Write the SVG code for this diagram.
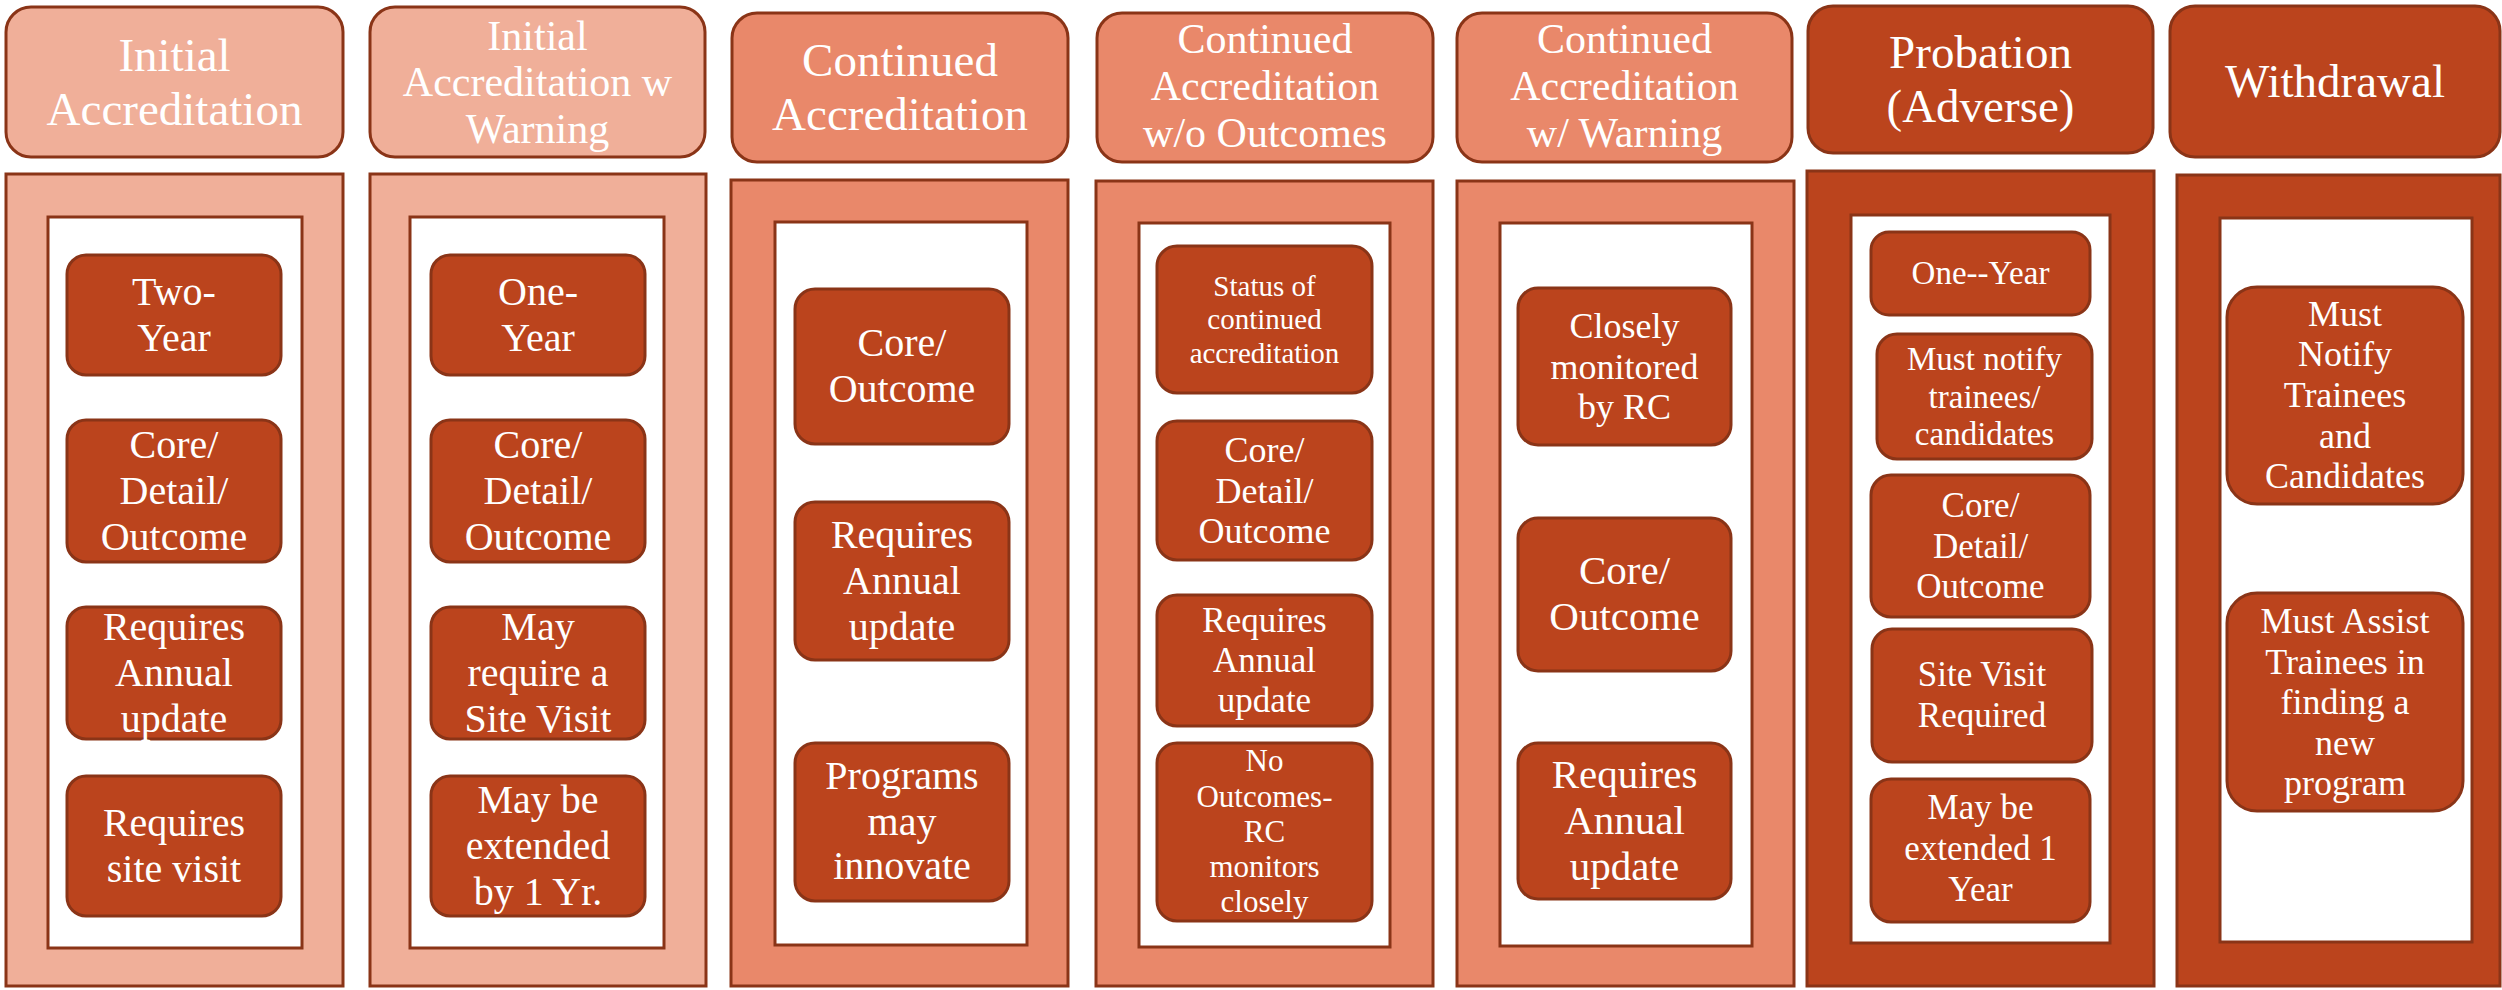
<svg xmlns="http://www.w3.org/2000/svg" width="2502" height="990" viewBox="0 0 2502 990">
<style>
  .hl{fill:#F0AF99;stroke:#8A3417;stroke-width:3}
  .hm{fill:#E9886A;stroke:#8A3417;stroke-width:3}
  .hd{fill:#BB441D;stroke:#8A3417;stroke-width:3}
  .in{fill:#FFFFFF;stroke:#8A3417;stroke-width:3}
  .bx{fill:#BB441D;stroke:#8A3417;stroke-width:3}
  text{fill:#FFFFFF;text-anchor:middle}
  .t47{font-size:47px}
  .t42{font-size:42px}
  .t41{font-size:41px}
  .t40{font-size:40px}
  .t36{font-size:36px}
  .t35{font-size:35px}
  .t33{font-size:33px}
  .t31{font-size:31px}
  .t29{font-size:29px}
</style>
<rect width="2502" height="990" fill="#FFFFFF"/>
<g font-family="Liberation Serif, Tinos, Times New Roman, DejaVu Serif, serif">

<g id="col1">
  <rect class="hl" x="6" y="7" width="337" height="150" rx="25"/>
  <text class="t47" x="174.5" y="70.5">Initial</text>
  <text class="t47" x="174.5" y="124.5">Accreditation</text>
  <rect class="hl" x="6" y="174" width="337" height="812"/>
  <rect class="in" x="48" y="217" width="254" height="731"/>
  <g id="c1b1"><rect class="bx" x="67" y="255" width="214" height="120" rx="19"/>
    <text class="t40" x="174" y="305">Two-</text><text class="t40" x="174" y="351">Year</text></g>
  <g id="c1b2"><rect class="bx" x="67" y="420" width="214" height="142" rx="19"/>
    <text class="t40" x="174" y="458">Core/</text><text class="t40" x="174" y="504">Detail/</text><text class="t40" x="174" y="550">Outcome</text></g>
  <g id="c1b3"><rect class="bx" x="67" y="607" width="214" height="132" rx="19"/>
    <text class="t40" x="174" y="640">Requires</text><text class="t40" x="174" y="686">Annual</text><text class="t40" x="174" y="732">update</text></g>
  <g id="c1b4"><rect class="bx" x="67" y="776" width="214" height="140" rx="19"/>
    <text class="t40" x="174" y="836">Requires</text><text class="t40" x="174" y="882">site visit</text></g>
</g>

<g id="col2">
  <rect class="hl" x="370" y="7" width="335" height="150" rx="25"/>
  <text class="t42" x="537.5" y="49.5">Initial</text>
  <text class="t42" x="537.5" y="96">Accreditation w</text>
  <text class="t42" x="537.5" y="142.5">Warning</text>
  <rect class="hl" x="370" y="174" width="336" height="812"/>
  <rect class="in" x="410" y="217" width="254" height="731"/>
  <g id="c2b1"><rect class="bx" x="431" y="255" width="214" height="120" rx="19"/>
    <text class="t40" x="538" y="305">One-</text><text class="t40" x="538" y="351">Year</text></g>
  <g id="c2b2"><rect class="bx" x="431" y="420" width="214" height="142" rx="19"/>
    <text class="t40" x="538" y="458">Core/</text><text class="t40" x="538" y="504">Detail/</text><text class="t40" x="538" y="550">Outcome</text></g>
  <g id="c2b3"><rect class="bx" x="431" y="607" width="214" height="132" rx="19"/>
    <text class="t40" x="538" y="640">May</text><text class="t40" x="538" y="686">require a</text><text class="t40" x="538" y="732">Site Visit</text></g>
  <g id="c2b4"><rect class="bx" x="431" y="776" width="214" height="140" rx="19"/>
    <text class="t40" x="538" y="813">May be</text><text class="t40" x="538" y="859">extended</text><text class="t40" x="538" y="905">by 1 Yr.</text></g>
</g>

<g id="col3">
  <rect class="hm" x="732" y="13" width="336" height="149" rx="25"/>
  <text class="t47" x="900" y="76">Continued</text>
  <text class="t47" x="900" y="130">Accreditation</text>
  <rect class="hm" x="731" y="180" width="337" height="806"/>
  <rect class="in" x="775" y="222" width="252" height="723"/>
  <g id="c3b1"><rect class="bx" x="795" y="289" width="214" height="155" rx="20"/>
    <text class="t40" x="902" y="356">Core/</text><text class="t40" x="902" y="402">Outcome</text></g>
  <g id="c3b2"><rect class="bx" x="795" y="502" width="214" height="158" rx="20"/>
    <text class="t40" x="902" y="548">Requires</text><text class="t40" x="902" y="594">Annual</text><text class="t40" x="902" y="640">update</text></g>
  <g id="c3b3"><rect class="bx" x="795" y="743" width="214" height="158" rx="20"/>
    <text class="t40" x="902" y="789">Programs</text><text class="t40" x="902" y="835">may</text><text class="t40" x="902" y="879">innovate</text></g>
</g>

<g id="col4">
  <rect class="hm" x="1097" y="13" width="336" height="149" rx="25"/>
  <text class="t42" x="1265" y="53">Continued</text>
  <text class="t42" x="1265" y="100">Accreditation</text>
  <text class="t42" x="1265" y="147">w/o Outcomes</text>
  <rect class="hm" x="1096" y="181" width="337" height="805"/>
  <rect class="in" x="1139" y="223" width="251" height="724"/>
  <g id="c4b1"><rect class="bx" x="1157" y="246" width="215" height="147" rx="20"/>
    <text class="t29" x="1264.5" y="295.5">Status of</text><text class="t29" x="1264.5" y="329">continued</text><text class="t29" x="1264.5" y="362.5">accreditation</text></g>
  <g id="c4b2"><rect class="bx" x="1157" y="421" width="215" height="139" rx="20"/>
    <text class="t36" x="1264.5" y="462">Core/</text><text class="t36" x="1264.5" y="502.5">Detail/</text><text class="t36" x="1264.5" y="543">Outcome</text></g>
  <g id="c4b3"><rect class="bx" x="1157" y="595" width="215" height="131" rx="20"/>
    <text class="t35" x="1264.5" y="632">Requires</text><text class="t35" x="1264.5" y="672">Annual</text><text class="t35" x="1264.5" y="712">update</text></g>
  <g id="c4b4"><rect class="bx" x="1157" y="743" width="215" height="178" rx="20"/>
    <text class="t31" x="1264.5" y="771">No</text><text class="t31" x="1264.5" y="806.5">Outcomes-</text><text class="t31" x="1264.5" y="842">RC</text><text class="t31" x="1264.5" y="877">monitors</text><text class="t31" x="1264.5" y="912">closely</text></g>
</g>

<g id="col5">
  <rect class="hm" x="1457" y="13" width="335" height="149" rx="25"/>
  <text class="t42" x="1624.5" y="53">Continued</text>
  <text class="t42" x="1624.5" y="100">Accreditation</text>
  <text class="t42" x="1624.5" y="147">w/ Warning</text>
  <rect class="hm" x="1457" y="181" width="337" height="805"/>
  <rect class="in" x="1500" y="223" width="252" height="723"/>
  <g id="c5b1"><rect class="bx" x="1518" y="288" width="213" height="157" rx="20"/>
    <text class="t36" x="1624.5" y="338">Closely</text><text class="t36" x="1624.5" y="378.5">monitored</text><text class="t36" x="1624.5" y="419">by RC</text></g>
  <g id="c5b2"><rect class="bx" x="1518" y="518" width="213" height="153" rx="20"/>
    <text class="t41" x="1624.5" y="584">Core/</text><text class="t41" x="1624.5" y="630">Outcome</text></g>
  <g id="c5b3"><rect class="bx" x="1518" y="743" width="213" height="156" rx="20"/>
    <text class="t41" x="1624.5" y="788">Requires</text><text class="t41" x="1624.5" y="834">Annual</text><text class="t41" x="1624.5" y="880">update</text></g>
</g>

<g id="col6">
  <rect class="hd" x="1808" y="6" width="345" height="147" rx="25"/>
  <text class="t47" x="1980.5" y="68">Probation</text>
  <text class="t47" x="1980.5" y="122">(Adverse)</text>
  <rect class="hd" x="1807" y="171" width="347" height="815"/>
  <rect class="in" x="1851" y="215" width="259" height="728"/>
  <g id="c6b1"><rect class="bx" x="1871" y="232" width="219" height="83" rx="18"/>
    <text class="t33" x="1980.5" y="284">One--Year</text></g>
  <g id="c6b2"><rect class="bx" x="1877" y="334" width="215" height="125" rx="20"/>
    <text class="t33" x="1984.5" y="370">Must notify</text><text class="t33" x="1984.5" y="407.5">trainees/</text><text class="t33" x="1984.5" y="445">candidates</text></g>
  <g id="c6b3"><rect class="bx" x="1871" y="475" width="219" height="142" rx="20"/>
    <text class="t35" x="1980.5" y="517">Core/</text><text class="t35" x="1980.5" y="557.5">Detail/</text><text class="t35" x="1980.5" y="598">Outcome</text></g>
  <g id="c6b4"><rect class="bx" x="1872" y="629" width="220" height="133" rx="20"/>
    <text class="t35" x="1982" y="686">Site Visit</text><text class="t35" x="1982" y="727">Required</text></g>
  <g id="c6b5"><rect class="bx" x="1871" y="779" width="219" height="143" rx="20"/>
    <text class="t35" x="1980.5" y="819">May be</text><text class="t35" x="1980.5" y="860">extended 1</text><text class="t35" x="1980.5" y="901">Year</text></g>
</g>

<g id="col7">
  <rect class="hd" x="2170" y="6" width="330" height="151" rx="25"/>
  <text class="t47" x="2335" y="97">Withdrawal</text>
  <rect class="hd" x="2177" y="175" width="323" height="811"/>
  <rect class="in" x="2220" y="218" width="252" height="724"/>
  <g id="c7b1"><rect class="bx" x="2227" y="287" width="236" height="217" rx="30"/>
    <text class="t36" x="2345" y="326">Must</text><text class="t36" x="2345" y="366">Notify</text><text class="t36" x="2345" y="407">Trainees</text><text class="t36" x="2345" y="447.5">and</text><text class="t36" x="2345" y="488">Candidates</text></g>
  <g id="c7b2"><rect class="bx" x="2227" y="593" width="236" height="218" rx="30"/>
    <text class="t36" x="2345" y="633">Must Assist</text><text class="t36" x="2345" y="673.5">Trainees in</text><text class="t36" x="2345" y="714">finding a</text><text class="t36" x="2345" y="754.5">new</text><text class="t36" x="2345" y="795">program</text></g>
</g>

</g>
<g id="connectors"></g>
</svg>
